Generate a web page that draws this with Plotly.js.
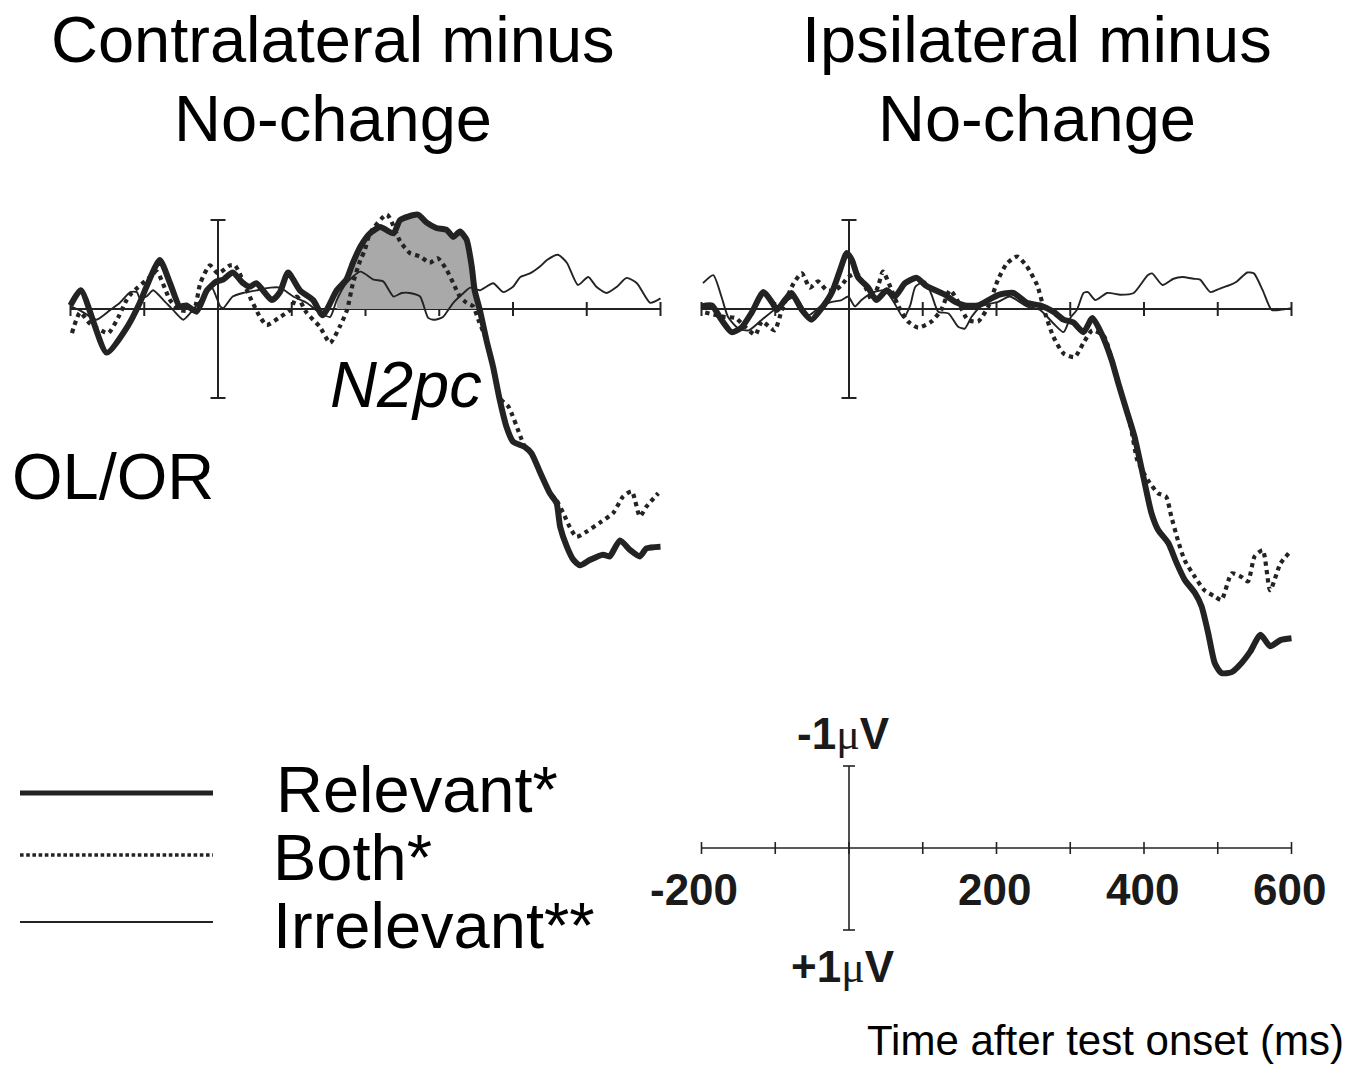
<!DOCTYPE html>
<html>
<head>
<meta charset="utf-8">
<script src="https://cdn.plot.ly/plotly-3.0.1.min.js"></script>
<style>html,body{margin:0;padding:0;background:#fff;}#chart{width:1366px;height:1068px;}</style>
</head>
<body>
<div id="chart"></div>
<script>
// ---------------- DATA (time in ms, amplitude in µV; negative plotted up) ----------------
const tickTimes = [-200, -100, 0, 100, 200, 300, 400, 500, 600];
const scaleLabelTimes = [-200, 200, 400, 600];
const scaleLabels = ['-200', '200', '400', '600'];
const seriesNames = ['Relevant*', 'Both*', 'Irrelevant**'];
const panelTitles = [['Contralateral minus', 'No-change'], ['Ipsilateral minus', 'No-change']];

// Left panel: Contralateral minus No-change
const relL_t = [-200,-186,-151,-123,-106,-97,-79,-65,-52,-43,-29,-15,-2,7,20,34,43,52,73,84,95,111,129,142,161,174,183,193,206,220,238,247,271,283,296,310,319,328,337,344,348,355,364,373,382,391,400,416,425,437,450,459,464,473,482,491,504,522,531,545,559,572,581,600];
const relL_v = [-0.04,-0.21,0.49,0.20,-0.07,-0.25,-0.55,-0.29,-0.03,-0.04,0.03,-0.21,-0.31,-0.33,-0.41,-0.29,-0.25,-0.29,-0.10,-0.19,-0.41,-0.21,-0.10,0.07,-0.21,-0.33,-0.52,-0.70,-0.85,-0.92,-0.85,-1.00,-1.06,-0.97,-0.91,-0.89,-0.81,-0.87,-0.78,-0.48,-0.21,0.01,0.35,0.65,1.02,1.32,1.49,1.55,1.62,1.84,2.07,2.18,2.45,2.67,2.82,2.88,2.82,2.76,2.78,2.60,2.71,2.78,2.69,2.67];

const bothL_t = [-198,-187,-174,-149,-135,-124,-117,-92,-83,-65,-52,-33,-24,-11,0,16,23,43,57,66,84,98,107,120,138,152,165,175,183,193,199,206,229,247,260,274,287,298,310,319,328,337,346,353,364,373,382,394,410,416,425,437,450,459,468,477,486,500,518,536,549,561,572,581,597];
const bothL_v = [0.27,0.04,0.16,0.27,0.09,-0.10,-0.18,-0.36,-0.42,-0.10,0.01,0.01,-0.29,-0.49,-0.40,-0.49,-0.49,-0.14,0.09,0.18,0.09,0.01,-0.14,0.04,0.20,0.38,0.20,0.01,-0.29,-0.55,-0.66,-0.85,-1.06,-0.76,-0.63,-0.59,-0.52,-0.57,-0.44,-0.29,-0.14,-0.07,-0.03,0.12,0.35,0.65,1.00,1.10,1.43,1.55,1.62,1.84,2.07,2.15,2.29,2.45,2.56,2.50,2.40,2.29,2.11,2.05,2.33,2.22,2.07];

const irrL_t = [-200,-186,-165,-146,-133,-119,-110,-106,-97,-88,-74,-61,-47,-34,-20,-9,3,7,20,34,52,71,84,102,120,138,152,161,174,193,211,224,238,249,260,274,285,294,305,319,333,342,355,373,387,400,410,423,437,446,461,473,488,502,513,527,541,554,568,586,600];
const irrL_v = [-0.03,0.02,0.12,0.01,-0.07,-0.19,-0.19,-0.12,-0.14,-0.21,-0.10,0.01,0.12,0.01,-0.14,-0.25,-0.03,-0.01,-0.14,-0.18,-0.21,-0.24,-0.24,-0.14,-0.07,0.04,0.09,-0.10,-0.29,-0.42,-0.33,-0.31,-0.14,-0.18,-0.18,-0.14,0.10,0.12,0.09,-0.07,-0.18,-0.24,-0.21,-0.29,-0.19,-0.25,-0.36,-0.40,-0.48,-0.55,-0.61,-0.52,-0.27,-0.36,-0.25,-0.18,-0.25,-0.35,-0.29,-0.07,-0.12];

// Right panel: Ipsilateral minus No-change
const relR_t = [-200,-186,-173,-159,-146,-132,-116,-104,-98,-87,-78,-64,-51,-37,-23,-12,-3,4,12,26,37,51,62,76,92,103,117,130,144,157,175,189,203,223,241,259,277,291,304,318,330,342,356,365,376,387,399,410,419,433,444,455,469,478,487,496,505,519,532,544,558,571,585,600];
const relR_v = [-0.03,-0.04,0.12,0.26,0.21,0.04,-0.19,-0.07,0.01,-0.10,-0.18,0.01,0.12,-0.01,-0.19,-0.44,-0.63,-0.55,-0.36,-0.24,-0.10,-0.21,-0.14,-0.29,-0.35,-0.27,-0.21,-0.16,-0.08,-0.04,-0.04,-0.10,-0.16,-0.18,-0.07,-0.04,0.03,0.12,0.15,0.26,0.10,0.27,0.57,0.83,1.13,1.43,1.88,2.29,2.48,2.63,2.85,3.04,3.19,3.34,3.64,3.98,4.09,4.08,3.98,3.85,3.66,3.79,3.72,3.70];

const bothR_t = [-195,-168,-154,-141,-127,-118,-101,-91,-75,-64,-53,-42,-30,-19,-10,-1,10,22,31,40,46,58,67,80,94,112,125,137,148,161,175,189,202,214,228,241,255,266,277,291,306,318,330,346,359,371,382,391,405,419,430,437,446,455,469,482,496,505,519,532,541,550,561,571,585,600];
const bothR_v = [0.04,0.09,0.10,0.20,0.29,0.14,0.24,0.01,-0.29,-0.40,-0.24,-0.31,-0.21,-0.21,-0.27,-0.36,-0.40,-0.25,-0.10,-0.27,-0.42,-0.21,-0.03,0.14,0.21,0.14,0.01,-0.21,-0.08,0.12,0.14,-0.03,-0.33,-0.51,-0.59,-0.48,-0.27,0.05,0.31,0.50,0.54,0.38,0.24,0.31,0.65,0.99,1.32,1.70,1.92,2.07,2.11,2.33,2.60,2.82,3.01,3.16,3.23,3.27,2.97,3.01,3.06,2.78,2.71,3.16,2.86,2.71];

const irrR_t = [-198,-184,-173,-164,-150,-136,-118,-95,-73,-55,-37,-23,-10,-1,8,17,31,49,62,74,83,90,103,112,121,135,148,157,166,179,202,218,241,259,277,291,300,309,318,324,334,350,368,386,405,411,425,440,452,467,476,490,503,517,526,540,549,561,573,585,600];
const irrR_v = [-0.29,-0.38,-0.14,0.09,0.22,0.24,0.12,-0.03,-0.14,0.07,-0.04,-0.08,-0.10,-0.14,-0.03,-0.10,-0.18,-0.21,-0.06,0.10,-0.04,-0.25,-0.31,-0.16,0.03,0.05,0.20,0.22,0.09,-0.03,-0.08,-0.14,-0.03,0.01,0.16,0.26,0.10,0.01,-0.18,-0.19,-0.10,-0.18,-0.16,-0.18,-0.38,-0.40,-0.27,-0.34,-0.36,-0.34,-0.33,-0.19,-0.23,-0.27,-0.31,-0.41,-0.40,-0.21,0.01,0.01,-0.01];

// N2pc shaded window (ms)
const n2pcWindow = [161, 355];

// ---------------- STYLE ----------------
const W = 1366, H = 1068;
const ink = '#232323';
const font = 'Liberation Sans, Arial, Helvetica, sans-serif';
const styles = [
  {color: ink, width: 6, dash: 'solid'},
  {color: ink, width: 4.2, dash: '4.2px,4.2px'},
  {color: ink, width: 1.9, dash: 'solid'}
];
const legStyles = [
  {color: ink, width: 5, dash: 'solid'},
  {color: ink, width: 3.6, dash: '3.6px,2.6px'},
  {color: ink, width: 1.8, dash: 'solid'}
];
const px = v => v / W;
const py = v => 1 - v / H;

// ---------------- TRACES ----------------
const traces = [];
// N2pc shading (between Relevant curve and baseline)
const fx = [], fy = [];
relL_t.forEach((t, i) => { if (t >= n2pcWindow[0] && t <= n2pcWindow[1]) { fx.push(t); fy.push(relL_v[i]); } });
traces.push({x: fx, y: fy, xaxis: 'x', yaxis: 'y', mode: 'lines', fill: 'tozeroy', fillcolor: '#a9a9a9',
  line: {width: 0, shape: 'spline', smoothing: 0.6}, hoverinfo: 'skip', showlegend: false});

const panelSeries = [
  {ax: ['x', 'y'], data: [[relL_t, relL_v], [bothL_t, bothL_v], [irrL_t, irrL_v]]},
  {ax: ['x2', 'y2'], data: [[relR_t, relR_v], [bothR_t, bothR_v], [irrR_t, irrR_v]]}
];
panelSeries.forEach(p => {
  [2, 1, 0].forEach(k => {
    traces.push({
      x: p.data[k][0], y: p.data[k][1], xaxis: p.ax[0], yaxis: p.ax[1],
      mode: 'lines', name: seriesNames[k], showlegend: false,
      line: {color: styles[k].color, width: styles[k].width, dash: styles[k].dash, shape: 'spline', smoothing: 0.6}
    });
  });
});

// ---------------- AXIS DRAWINGS (shapes in data coords) ----------------
const shapes = [];
function axesAt(xr, yr, lw, tickPx, serifPx) {
  const ln = {color: ink, width: lw};
  shapes.push({type: 'line', xref: xr, yref: yr, x0: tickTimes[0], x1: tickTimes[tickTimes.length - 1], y0: 0, y1: 0, line: ln, layer: 'below'});
  tickTimes.forEach(t => shapes.push({type: 'line', xref: xr, yref: yr, x0: t, x1: t, ysizemode: 'pixel', yanchor: 0, y0: -tickPx, y1: tickPx, line: ln, layer: 'below'}));
  shapes.push({type: 'line', xref: xr, yref: yr, x0: 0, x1: 0, y0: -1, y1: 1, line: ln, layer: 'below'});
  [-1, 1].forEach(v => shapes.push({type: 'line', xref: xr, yref: yr, xsizemode: 'pixel', xanchor: 0, x0: -serifPx, x1: serifPx, y0: v, y1: v, line: ln, layer: 'below'}));
}
axesAt('x', 'y', 2, 7, 7.5);
axesAt('x2', 'y2', 2, 7, 7.5);
axesAt('x3', 'y3', 1.6, 6, 6);

// legend samples
const legY = [793, 855, 922];
legStyles.forEach((s, k) => shapes.push({type: 'line', xref: 'paper', yref: 'paper', x0: px(20), x1: px(213), y0: py(legY[k]), y1: py(legY[k]),
  line: {color: s.color, width: s.width, dash: s.dash}}));

// ---------------- TEXT ----------------
const ann = [];
const bigFont = {family: font, size: 65, color: '#000'};
const titleX = [333, 1037];
panelTitles.forEach((lines, i) => {
  ann.push({xref: 'paper', yref: 'paper', x: px(titleX[i]), y: py(40), text: lines[0], showarrow: false, xanchor: 'center', yanchor: 'middle', font: bigFont});
  ann.push({xref: 'paper', yref: 'paper', x: px(titleX[i]), y: py(118), text: lines[1], showarrow: false, xanchor: 'center', yanchor: 'middle', font: bigFont});
});
ann.push({xref: 'paper', yref: 'paper', x: px(328), y: py(385), text: '<i>N2pc</i>', showarrow: false, xanchor: 'left', yanchor: 'middle', font: bigFont});
ann.push({xref: 'paper', yref: 'paper', x: px(10), y: py(477), text: 'OL/OR', showarrow: false, xanchor: 'left', yanchor: 'middle', font: bigFont});
const legTextX = [274, 271, 271];
const legTextY = [789, 857, 925];
seriesNames.forEach((n, k) => ann.push({xref: 'paper', yref: 'paper', x: px(legTextX[k]), y: py(legTextY[k]), text: n, showarrow: false, xanchor: 'left', yanchor: 'middle', font: bigFont}));

const boldFont = {family: font, size: 44, color: '#1a1a1a', weight: 'bold'};
scaleLabelTimes.forEach((t, i) => ann.push({xref: 'x3', yref: 'y3', x: t, y: 0, yshift: -41, xshift: scaleLabels[i].startsWith('-') ? -8 : -2,
  text: '<b>' + scaleLabels[i] + '</b>', showarrow: false, xanchor: 'center', yanchor: 'middle', font: boldFont}));
const mu = "<span style='font-family:Liberation Serif, Times New Roman, serif;font-weight:normal'>μ</span>";
ann.push({xref: 'x3', yref: 'y3', x: 0, y: -1, yshift: 32, xshift: -6, text: '<b>-1</b>' + mu + '<b>V</b>', showarrow: false, xanchor: 'center', yanchor: 'middle', font: boldFont});
ann.push({xref: 'x3', yref: 'y3', x: 0, y: 1, yshift: -37, xshift: -6, text: '<b>+1</b>' + mu + '<b>V</b>', showarrow: false, xanchor: 'center', yanchor: 'middle', font: boldFont});
ann.push({xref: 'paper', yref: 'paper', x: px(1345), y: py(1040), text: 'Time after test onset (ms)', showarrow: false, xanchor: 'right', yanchor: 'middle',
  borderpad: 0, font: {family: font, size: 42, color: '#000'}});

// ---------------- LAYOUT ----------------
const hid = {visible: false, fixedrange: true};
const layout = {
  width: W, height: H, margin: {l: 0, r: 0, t: 0, b: 0},
  paper_bgcolor: '#fff', plot_bgcolor: 'rgba(0,0,0,0)', showlegend: false,
  xaxis: Object.assign({domain: [px(40), px(675)], range: [(40 - 218) / 0.7375, (675 - 218) / 0.7375]}, hid),
  yaxis: Object.assign({domain: [py(600), py(180)], range: [(600 - 309) / 89, (180 - 309) / 89]}, hid),
  xaxis2: Object.assign({domain: [px(685), px(1320)], range: [(685 - 849) / 0.7375, (1320 - 849) / 0.7375]}, hid),
  yaxis2: Object.assign({domain: [py(700), py(180)], range: [(700 - 309) / 89, (180 - 309) / 89]}, hid),
  xaxis3: Object.assign({domain: [px(685), px(1320)], range: [(685 - 849) / 0.7375, (1320 - 849) / 0.7375], anchor: 'y3'}, hid),
  yaxis3: Object.assign({domain: [py(1000), py(720)], range: [(1000 - 848) / 82, (720 - 848) / 82], anchor: 'x3'}, hid),
  shapes: shapes, annotations: ann
};
layout.xaxis2.anchor = 'y2'; layout.yaxis2.anchor = 'x2';

Plotly.newPlot('chart', traces, layout, {staticPlot: true, displayModeBar: false});
</script>
</body>
</html>
